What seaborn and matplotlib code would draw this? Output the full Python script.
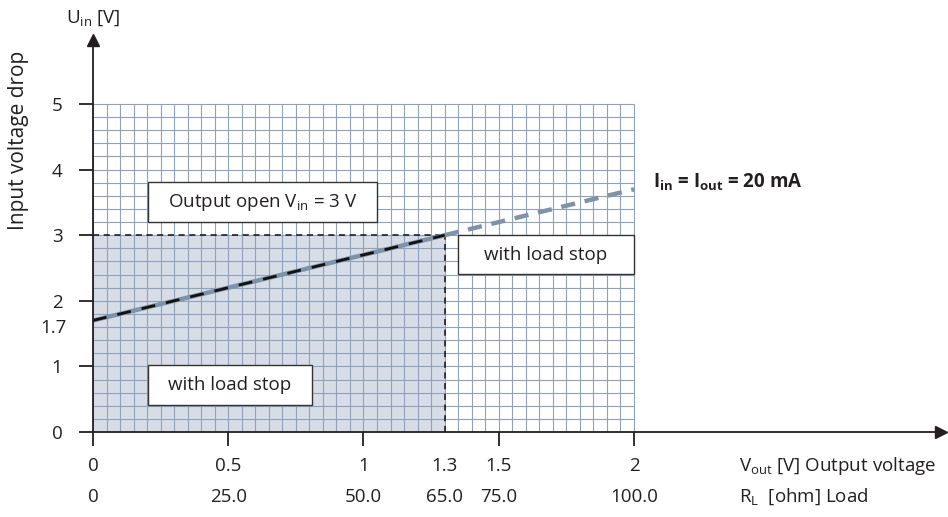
import numpy as np
import pandas as pd
import seaborn as sns
import matplotlib.pyplot as plt
import matplotlib.transforms as mtransforms
from matplotlib.patches import Rectangle

# data
vout_ticks = [0, 0.5, 1, 1.5, 2]
vout_labels = ['0', '0.5', '1', '1.5', '2']
rl_labels = ['0', '25.0', '50.0', '75.0', '100.0']
uin_ticks = [0, 1, 2, 3, 4, 5]

line_x = [0.0, 1.3]
line_y = [1.7, 3.0]
ext_x = [1.3, 2.0]
ext_y = [3.0, 3.7]

knee_x, knee_y = 1.3, 3.0
knee_rl = '65.0'
uin_start = 1.7

grid_xmax, grid_ymax = 2.0, 5.0

sns.set_style('white')
plt.rcParams['font.family'] = ['Open Sans', 'DejaVu Sans']
plt.rcParams['mathtext.fontset'] = 'custom'
plt.rcParams['mathtext.rm'] = 'Open Sans'
plt.rcParams['mathtext.bf'] = 'Open Sans:bold'

FS = 13.5
txt = '#231f20'
grid_col = '#8fa2ba'
shade = '#d6dde7'
grey_line = '#7f93a8'

fig = plt.figure(figsize=(9.48, 5.17), dpi=100)
ax = fig.add_axes([93 / 948, 1 - 432 / 517, (941 - 93) / 948, (432 - 40) / 517])
ax.set_xlim(0, (941 - 93) / 270.5)
ax.set_ylim(0, (432 - 40) / 65.6)

# shaded area under the knee
ax.add_patch(Rectangle((0, 0), knee_x, knee_y, facecolor=shade, edgecolor='none', zorder=0))

# fine grid inside the 0..2 x 0..5 region
gx = np.arange(0, grid_xmax + 1e-9, 0.05)
gy = np.arange(0, grid_ymax + 1e-9, 0.2)
ax.vlines(gx, 0, grid_ymax, color=grid_col, lw=0.8, zorder=1)
ax.hlines(gy, 0, grid_xmax, color=grid_col, lw=0.8, zorder=1)

# dashed guides to the knee
ax.plot([0, knee_x], [knee_y, knee_y], color='#111111', ls=(0, (4, 3)), lw=1.1, zorder=3)
ax.plot([knee_x, knee_x], [0, knee_y], color='#111111', ls=(0, (4, 3)), lw=1.1, zorder=3)

# characteristic line
df = pd.DataFrame({'x': line_x, 'y': line_y})
df_ext = pd.DataFrame({'x': ext_x, 'y': ext_y})
sns.lineplot(data=df, x='x', y='y', ax=ax, color=grey_line, lw=3.2, zorder=4)
sns.lineplot(data=df, x='x', y='y', ax=ax, color='#111111', lw=2.0, ls=(0, (5, 4)), zorder=5)
sns.lineplot(data=df_ext, x='x', y='y', ax=ax, color=grey_line, lw=3.2, ls=(0, (3.2, 2.2)), zorder=4)
ax.set_xlabel('')
ax.set_ylabel('')


# text boxes
def label_box(x0, y0, x1, y1, s):
    ax.add_patch(Rectangle((x0, y0), x1 - x0, y1 - y0, facecolor='white',
                           edgecolor='#333333', lw=1.0, zorder=6))
    ax.text((x0 + x1) / 2, (y0 + y1) / 2, s, ha='center', va='center',
            fontsize=FS, color=txt, zorder=7)


label_box(0.203, 3.2, 1.05, 3.81, r'Output open V$_{\mathrm{in}}$ = 3 V')
label_box(1.35, 2.41, 2.0, 3.0, 'with load stop')
label_box(0.203, 0.41, 0.81, 1.02, 'with load stop')

ax.text(2.07, 3.8, r'I$_{\mathbf{in}}$ = I$_{\mathbf{out}}$ = 20 mA', fontsize=FS,
        fontweight='bold', color=txt, va='center', ha='left')

# axes, ticks and arrows
for s in ['top', 'right']:
    ax.spines[s].set_visible(False)
for s in ['left', 'bottom']:
    ax.spines[s].set_color('#231f20')
    ax.spines[s].set_linewidth(1.3)
    ax.spines[s].set_zorder(8)
ax.plot(1, 0, '>', color='#231f20', ms=9, transform=ax.transAxes, clip_on=False)
ax.plot(0, 1, '^', color='#231f20', ms=9, transform=ax.transAxes, clip_on=False)

ax.set_yticks(uin_ticks)
ax.set_yticklabels([str(v) for v in uin_ticks], fontsize=FS, color=txt)
ax.set_xticks(vout_ticks)
ax.set_xticklabels([])
ax.tick_params(axis='both', direction='out', length=10, width=1.3, color='#231f20',
               bottom=True, left=True)
ax.tick_params(axis='y', pad=12)

# two rows of x labels: V_out and R_L
xrow = mtransforms.blended_transform_factory(ax.transData, fig.transFigure)
for v, a, b in zip(vout_ticks, vout_labels, rl_labels):
    ax.text(v, 1 - 466 / 517, a, transform=xrow, fontsize=FS, color=txt, ha='center', va='center')
    ax.text(v, 1 - 497 / 517, b, transform=xrow, fontsize=FS, color=txt, ha='center', va='center')
ax.text(knee_x, 1 - 466 / 517, f'{knee_x}', transform=xrow, fontsize=FS, color=txt,
        ha='center', va='center')
ax.text(knee_x, 1 - 497 / 517, knee_rl, transform=xrow, fontsize=FS, color=txt,
        ha='center', va='center')

yrow = mtransforms.blended_transform_factory(fig.transFigure, ax.transData)
ax.text(67 / 948, uin_start - 0.12, f'{uin_start}', transform=yrow, fontsize=FS, color=txt,
        ha='right', va='center')

fig.text(93 / 948, 1 - 18 / 517, r'U$_{\mathrm{in}}$ [V]', fontsize=FS, color=txt, ha='center', va='center')
fig.text(19 / 948, 1 - 140 / 517, 'Input voltage drop', fontsize=15, color=txt, rotation=90,
         ha='center', va='center')
fig.text(739 / 948, 1 - 466 / 517, r'V$_{\mathrm{out}}$ [V] Output voltage', fontsize=FS, color=txt,
         ha='left', va='center')
fig.text(739 / 948, 1 - 497 / 517, r'R$_{\mathrm{L}}$  [ohm] Load', fontsize=FS, color=txt,
         ha='left', va='center')

fig.savefig('out.png', dpi=100)
